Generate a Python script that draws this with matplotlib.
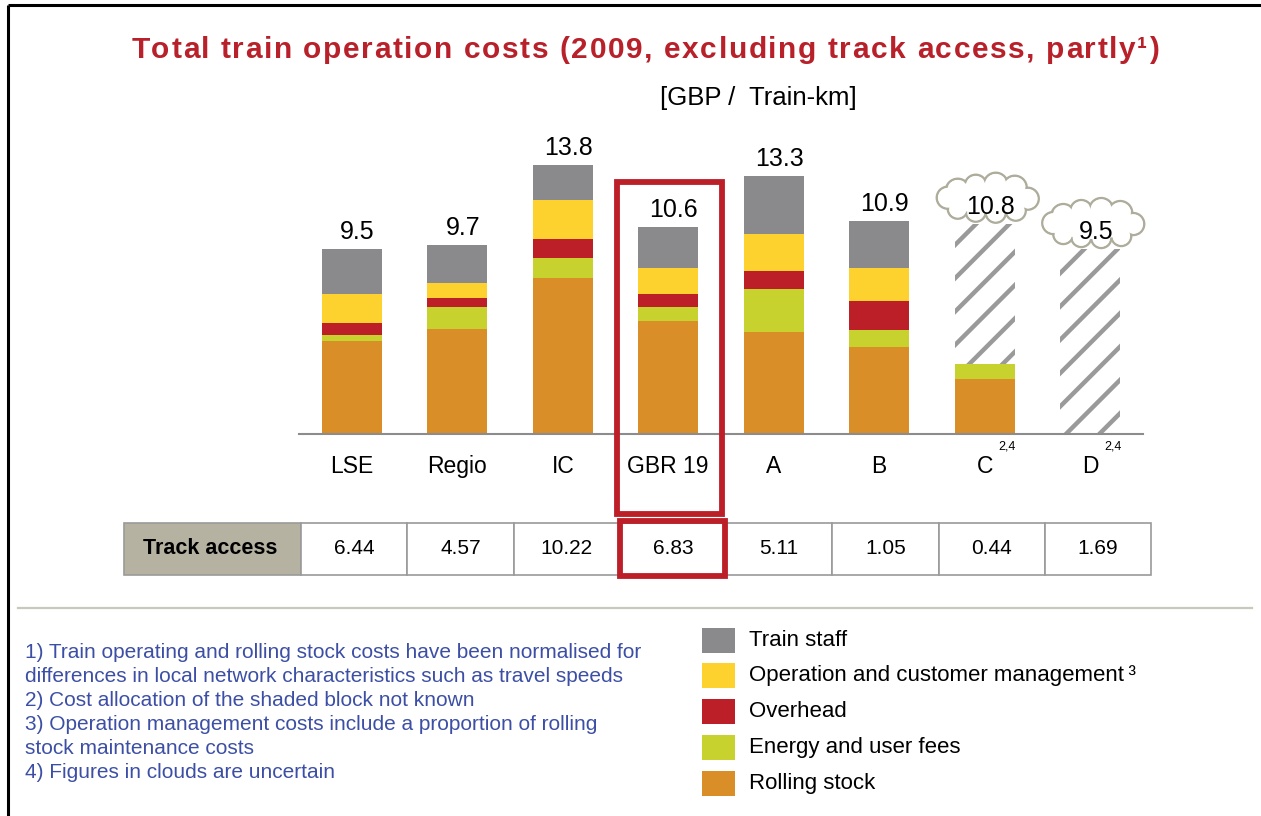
import matplotlib
matplotlib.use("Agg")
import matplotlib.pyplot as plt
from matplotlib.patches import Rectangle, Circle, Ellipse
from matplotlib.transforms import IdentityTransform
from matplotlib.font_manager import FontProperties, findfont, get_font

plt.rcParams['font.family'] = ['Liberation Sans', 'DejaVu Sans']
plt.rcParams['hatch.linewidth'] = 3.2

# data (GBP / train-km)
categories = ['LSE', 'Regio', 'IC', 'GBR 19', 'A', 'B', 'C', 'D']
rolling_stock = [4.78, 5.39, 8.00, 5.80, 5.24, 4.47, 2.82, 0.0]
energy = [0.31, 1.13, 1.03, 0.72, 2.21, 0.87, 0.77, 0.0]
overhead = [0.62, 0.46, 0.98, 0.67, 0.92, 1.49, 0.0, 0.0]
operation = [1.49, 0.77, 2.00, 1.33, 1.90, 1.69, 0.0, 0.0]
train_staff = [2.31, 1.95, 1.80, 2.10, 2.98, 2.41, 0.0, 0.0]
unknown = [0.0, 0.0, 0.0, 0.0, 0.0, 0.0, 7.21, 9.5]
totals = [9.5, 9.7, 13.8, 10.6, 13.3, 10.9, 10.8, 9.5]
in_cloud = [False, False, False, False, False, False, True, True]
track_access = [6.44, 4.57, 10.22, 6.83, 5.11, 1.05, 0.44, 1.69]
highlight = 'GBR 19'

series = [
    ('Rolling stock', rolling_stock, '#d98e27'),
    ('Energy and user fees', energy, '#c8d22e'),
    ('Overhead', overhead, '#bd1f29'),
    ('Operation and customer management\u2009\u00b3', operation, '#fdd22f'),
    ('Train staff', train_staff, '#8a8a8c'),
]

W, H = 1261, 816
fig = plt.figure(figsize=(W / 100, H / 100), dpi=100)
fig.patch.set_facecolor('white')

# bar axes, placed in pixels: x -0.5..7.5 -> 299..1143, y 0 at 434 px, 19.47 px per unit
ymax = 15
ax = fig.add_axes([299 / W, (H - 434) / H, 844 / W, ymax * 19.47 / H])
ax.set_xlim(-0.5, 7.5)
ax.set_ylim(0, ymax)
for s in ['top', 'right', 'left']:
    ax.spines[s].set_visible(False)
ax.spines['bottom'].set_color('#8c8c8c')
ax.spines['bottom'].set_linewidth(1.5)
ax.set_yticks([])
ax.set_xticks([])
ax.patch.set_alpha(0)

x = list(range(len(categories)))
bw = 0.57
bottom = [0.0] * len(x)
for name, vals, col in series:
    ax.bar(x, vals, bw, bottom=bottom, color=col, linewidth=0, zorder=2)
    bottom = [b + v for b, v in zip(bottom, vals)]
ax.bar(x, unknown, bw, bottom=bottom, color='white', edgecolor='#9a9a9a',
       linewidth=0, hatch='/', zorder=2)
tops = [b + u for b, u in zip(bottom, unknown)]

# clouds in pixel units around uncertain labels
bumps = [(-30, 8, 12), (-12, 13, 11), (8, 14, 12), (27, 11, 12), (40, 0, 11),
         (28, -12, 10), (8, -14, 10), (-12, -13, 10), (-30, -10, 10), (-40, 1, 11)]
for i, t in enumerate(tops):
    X, Y = ax.transData.transform((i, t))
    if in_cloud[i]:
        cx, cy = X + 3, Y + 25
        for dx, dy, r in bumps:
            ax.add_patch(Circle((cx + dx, cy + dy), r, transform=IdentityTransform(),
                                facecolor='white', edgecolor='#aeac9b', lw=1.7,
                                clip_on=False, zorder=4))
        for dx, dy, r in bumps:
            ax.add_patch(Circle((cx + dx, cy + dy), r - 1.4, transform=IdentityTransform(),
                                facecolor='white', edgecolor='none',
                                clip_on=False, zorder=4.1))
        ax.add_patch(Ellipse((cx, cy), 80, 30, transform=IdentityTransform(),
                             facecolor='white', edgecolor='none', clip_on=False, zorder=4.2))
    ax.annotate(f'{totals[i]:.1f}', (i, t), xytext=(4, 3.5), textcoords='offset points',
                ha='center', va='bottom', fontsize=18, color='black', zorder=5,
                annotation_clip=False)
    ax.text(i, -1.65, categories[i], ha='center', va='center', fontsize=16.5)
    if categories[i] in ('C', 'D'):
        ax.text(i + 0.13, -0.65, '2,4', ha='left', va='center', fontsize=9)

# overlay in pixel coordinates for table, legend, notes
ov = fig.add_axes([0, 0, 1, 1])
ov.set_xlim(0, W)
ov.set_ylim(H, 0)
ov.axis('off')
ov.patch.set_alpha(0)

# frame
ov.plot([8, W], [5, 5], color='black', lw=2.2, solid_capstyle='butt')
ov.plot([8, 8], [5, H], color='black', lw=2.2, solid_capstyle='butt')

# letter-spaced title
title = 'Total train operation costs (2009, excluding track access, partly\u00b9)'
tsize = 21.5
fp = FontProperties(family='Liberation Sans', weight='bold', size=tsize)
font = get_font(findfont(fp))
font.set_size(tsize, 100)
adv = []
for ch in title:
    g = font.load_char(ord(ch))
    adv.append(g.linearHoriAdvance / 65536)
gap = 1.6
total_w = sum(adv) + gap * (len(title) - 1)
xc = 645 - total_w / 2
for ch, a in zip(title, adv):
    ov.text(xc, 50, ch, ha='left', va='center', fontproperties=fp, color='#b8202a')
    xc += a + gap

ov.text(758, 98, '[GBP /  Train-km]', ha='center', va='center', fontsize=18.5)

# table
ty0, ty1 = 523, 575
ov.add_patch(Rectangle((124, ty0), 177, ty1 - ty0, facecolor='#b5b2a2', edgecolor='#9a9a9a', lw=1.2))
ov.text(210, (ty0 + ty1) / 2, 'Track access', ha='center', va='center', fontsize=15.5, fontweight='bold')
cw = 106.25
for i, v in enumerate(track_access):
    x0 = 301 + i * cw
    ov.add_patch(Rectangle((x0, ty0), cw, ty1 - ty0, facecolor='white', edgecolor='#9a9a9a', lw=1.2))
    ov.text(x0 + cw / 2, (ty0 + ty1) / 2, f'{v:.2f}', ha='center', va='center', fontsize=15)

# highlight boxes around GBR 19
hi = categories.index(highlight)
hx0 = 301 + hi * cw
ov.add_patch(Rectangle((hx0 - 3, 182), cw - 1, 332, facecolor='none', edgecolor='#bd1f29', lw=4.2))
ov.add_patch(Rectangle((hx0, 521), cw - 1, 55, facecolor='none', edgecolor='#bd1f29', lw=4.2))

# separator
ov.plot([18, 1252], [608, 608], color='#c8c8bc', lw=1.6)

# footnotes
notes = ['1) Train operating and rolling stock costs have been normalised for',
         'differences in local network characteristics such as travel speeds',
         '2) Cost allocation of the shaded block not known',
         '3) Operation management costs include a proportion of rolling',
         'stock maintenance costs',
         '4) Figures in clouds are uncertain']
for k, line in enumerate(notes):
    ov.text(25, 653 + k * 24, line, ha='left', va='center', fontsize=15, color='#3c4fa5')

# legend (top to bottom)
for k, (name, vals, col) in enumerate(series[::-1]):
    yc = 640 + k * 35.8
    ov.add_patch(Rectangle((702, yc - 12.5), 33, 25, facecolor=col, edgecolor='none'))
    ov.text(749, yc, name, ha='left', va='center', fontsize=16)

fig.savefig('out.png', dpi=100)
